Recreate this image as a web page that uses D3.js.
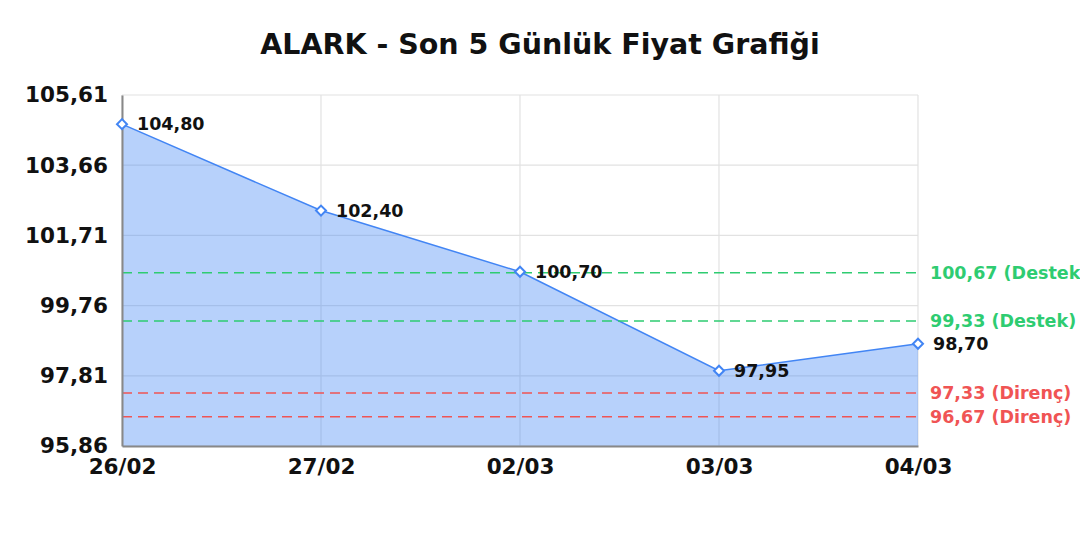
<!DOCTYPE html>
<html><head><meta charset="utf-8">
<script src="https://cdn.jsdelivr.net/npm/d3@7"></script>
<style>body{margin:0;background:#fff}svg{display:block}</style>
</head><body>
<svg id="c" width="1080" height="540"></svg>
<script>
const title = "ALARK - Son 5 Günlük Fiyat Grafiği";
const categories = ["26/02","27/02","02/03","03/03","04/03"];
const prices = [104.80, 102.40, 100.70, 97.95, 98.70];
const yTicks = [95.86, 97.81, 99.76, 101.71, 103.66, 105.61];
const supportLevels = [100.67, 99.33];
const resistanceLevels = [97.33, 96.67];

const fmt = v => v.toFixed(2).replace(".", ",");
const svg = d3.select("#c");
const F = "DejaVu Sans, sans-serif";
const m = {l:122, r:918, t:95, b:446};

const x = d3.scalePoint().domain(categories).range([m.l, m.r]);
const y = d3.scaleLinear().domain([yTicks[0], yTicks[yTicks.length-1]]).range([m.b, m.t]);

svg.append("text").attr("x",540).attr("y",54).attr("text-anchor","middle")
  .attr("font-family",F).attr("font-weight","bold").attr("font-size",28.5).attr("fill","#111").text(title);

// grid
const g = svg.append("g");
g.selectAll(".hg").data(yTicks).join("line")
  .attr("x1",m.l).attr("x2",m.r).attr("y1",d=>y(d)).attr("y2",d=>y(d))
  .attr("stroke","#e2e2e2").attr("stroke-width",1.2);
g.selectAll(".vg").data(categories).join("line")
  .attr("x1",d=>x(d)).attr("x2",d=>x(d)).attr("y1",m.t).attr("y2",m.b)
  .attr("stroke","#e2e2e2").attr("stroke-width",1.2);

// area
const area = d3.area().x((d,i)=>x(categories[i])).y0(m.b).y1(d=>y(d));
svg.append("path").datum(prices).attr("d",area).attr("fill","rgba(66,133,244,0.38)");
const line = d3.line().x((d,i)=>x(categories[i])).y(d=>y(d));
svg.append("path").datum(prices).attr("d",line).attr("fill","none").attr("stroke","#4285f4").attr("stroke-width",1.5);

// ref lines
function refs(levels, color, label){
  levels.forEach(v=>{
    svg.append("line").attr("x1",m.l).attr("x2",m.r).attr("y1",y(v)).attr("y2",y(v))
      .attr("stroke",color).attr("stroke-width",1.5).attr("stroke-dasharray","10,6");
    svg.append("text").attr("x",930).attr("y",y(v)+6).attr("font-family",F).attr("font-weight","bold")
      .attr("font-size",17.5).attr("fill",color).text(fmt(v)+" ("+label+")");
  });
}
refs(supportLevels, "#2ecc71", "Destek");
refs(resistanceLevels, "#f05454", "Direnç");

// axes
const yAxis = d3.axisLeft(y).tickValues(yTicks).tickSize(0).tickPadding(14).tickFormat(fmt);
const ya = svg.append("g").attr("transform",`translate(${m.l},0)`).call(yAxis);
ya.select(".domain").attr("stroke","#888").attr("stroke-width",2);
ya.selectAll("text").attr("font-family",F).attr("font-weight","bold").attr("font-size",21.5).attr("fill","#111");
const xAxis = d3.axisBottom(x).tickSize(0).tickPadding(13);
const xa = svg.append("g").attr("transform",`translate(0,${m.b})`).call(xAxis);
xa.select(".domain").attr("stroke","#888").attr("stroke-width",2);
xa.selectAll("text").attr("font-family",F).attr("font-weight","bold").attr("font-size",21.5).attr("fill","#111");

// markers
const sym = d3.symbol().type(d3.symbolSquare).size(50);
svg.selectAll(".mk").data(prices).join("path")
  .attr("d",sym).attr("transform",(d,i)=>`translate(${x(categories[i])},${y(d)}) rotate(45)`)
  .attr("fill","#fff").attr("stroke","#4285f4").attr("stroke-width",2);
svg.selectAll(".lb").data(prices).join("text")
  .attr("x",(d,i)=>x(categories[i])+15).attr("y",d=>y(d)+6)
  .attr("font-family",F).attr("font-weight","bold").attr("font-size",17.5).attr("fill","#111")
  .text(fmt);
</script>
</body></html>
